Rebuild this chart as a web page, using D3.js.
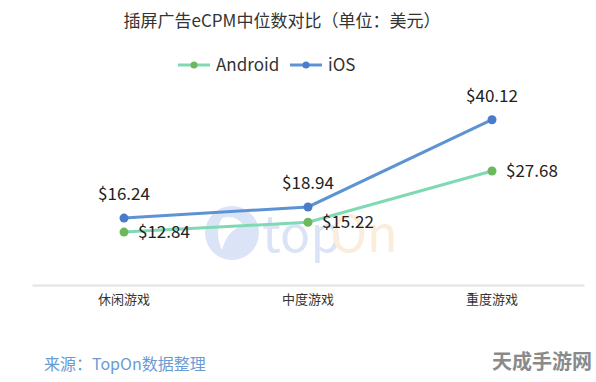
<!DOCTYPE html>
<html><head><meta charset="utf-8">
<script src="https://cdn.jsdelivr.net/npm/d3@7"></script>
<style>body{margin:0;background:#fff}svg{display:block}text{font-family:"Noto Sans CJK SC","Noto Sans",sans-serif}</style>
</head><body><svg id="c" width="596" height="382"></svg>
<script>
const categories = ["休闲游戏", "中度游戏", "重度游戏"];
const androidValues = [12.84, 15.22, 27.68];
const iosValues = [16.24, 18.94, 40.12];
const seriesNames = ["Android", "iOS"];

const svg = d3.select("#c");
const x = d3.scaleBand().domain(categories).range([32, 584]);
const y = d3.scaleLinear().domain([0, 50]).range([285, 79]);
const cx = c => x(c) + x.bandwidth() / 2;

// watermark (TopOn)
const wm = svg.append("g").attr("opacity", 0.3);
wm.append("circle").attr("cx", 232).attr("cy", 233).attr("r", 27).attr("fill", "#8aa6e6");
wm.append("path").attr("d", "M222,250 Q228,228 244,226 Q236,214 222,218 Q214,232 222,250 Z").attr("fill", "#fff");
wm.append("text").attr("x", 262).attr("y", 252).attr("font-size", 50).attr("fill", "#8aa6e6").attr("font-family", "Roboto, sans-serif").text("top");
wm.append("text").attr("x", 330).attr("y", 252).attr("font-size", 50).attr("fill", "#f5c48a").attr("font-family", "Roboto, sans-serif").text("On");

// title
svg.append("text").attr("x", 282).attr("y", 27).attr("text-anchor", "middle").attr("font-size", 17).attr("fill", "#333").text("插屏广告eCPM中位数对比（单位：美元）");

// legend
const colors = {Android: {line: "#7fdab4", dot: "#6cb85c"}, iOS: {line: "#5e93d3", dot: "#4a7cc9"}};
const leg = [{n: "Android", x: 178}, {n: "iOS", x: 290}];
leg.forEach(l => {
  svg.append("line").attr("x1", l.x).attr("x2", l.x + 32).attr("y1", 65).attr("y2", 65).attr("stroke", colors[l.n].line).attr("stroke-width", 3);
  svg.append("circle").attr("cx", l.x + 16).attr("cy", 65).attr("r", 3.5).attr("fill", colors[l.n].dot);
  svg.append("text").attr("x", l.x + 38).attr("y", 71).attr("font-size", 17).attr("fill", "#333").text(l.n);
});

// axis
const ax = svg.append("g").attr("transform", "translate(0,285)").call(d3.axisBottom(x).tickSize(0).tickPadding(10));
ax.select(".domain").attr("stroke", "#e3e3e3").attr("stroke-width", 2);
ax.selectAll(".tick text").attr("font-size", 13).attr("fill", "#333").attr("font-family", '"Noto Sans CJK SC", sans-serif');

// lines
const line = d3.line().x((d, i) => cx(categories[i])).y(d => y(d));
const data = {Android: androidValues, iOS: iosValues};
seriesNames.forEach(n => {
  svg.append("path").attr("d", line(data[n])).attr("fill", "none").attr("stroke", colors[n].line).attr("stroke-width", 3);
  data[n].forEach((v, i) => {
    svg.append("circle").attr("cx", cx(categories[i])).attr("cy", y(v)).attr("r", 4.5).attr("fill", colors[n].dot);
  });
});

// labels
iosValues.forEach((v, i) => {
  svg.append("text").attr("x", cx(categories[i])).attr("y", y(v) - 18).attr("text-anchor", "middle").attr("font-size", 17).attr("fill", "#222").text("$" + v.toFixed(2));
});
androidValues.forEach((v, i) => {
  svg.append("text").attr("x", cx(categories[i]) + 14).attr("y", y(v)).attr("dy", "0.35em").attr("font-size", 17).attr("fill", "#222").text("$" + v.toFixed(2));
});

// source
svg.append("text").attr("x", 44).attr("y", 370).attr("font-size", 16).attr("fill", "#6a9bd2").text("来源：TopOn数据整理");
svg.append("text").attr("x", 592).attr("y", 369).attr("text-anchor", "end").attr("font-size", 20).attr("font-weight", "bold").attr("fill", "#8a8a8a").text("天成手游网");
</script></body></html>
